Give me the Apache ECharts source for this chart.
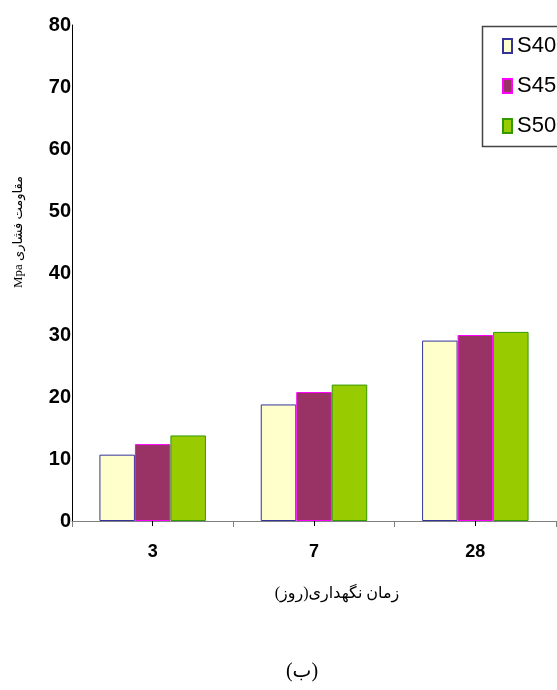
<!DOCTYPE html>
<html>
<head>
<meta charset="utf-8">
<script src="https://cdn.jsdelivr.net/npm/echarts@6/dist/echarts.min.js"></script>
<style>
html,body{margin:0;padding:0;background:#fff;}
#chart{width:557px;height:690px;}
</style>
</head>
<body>
<div id="chart"></div>
<script>
var categories = ['3', '7', '28'];
var seriesNames = ['S40', 'S45', 'S50'];
var s40 = [10.7, 18.8, 29.1];
var s45 = [12.4, 20.8, 30.0];
var s50 = [13.8, 22.0, 30.5];
var yTicks = [0, 10, 20, 30, 40, 50, 60, 70, 80];
var xAxisTitle = 'زمان نگهداری(روز)';
var yAxisTitle = 'Mpa مقاومت فشاری';
var figLabel = '(ب)';

var fills = ['#FFFFCC', '#993366', '#99CC00'];
var borders = ['#333399', '#FF00FF', '#339900'];
var values = [s40, s45, s50];

var chart = echarts.init(document.getElementById('chart'), null, {renderer: 'canvas'});
var sansFont = '"Liberation Sans", Arial, sans-serif';
var serifFont = '"Liberation Serif", "Times New Roman", "DejaVu Sans", serif';

var option = {
  animation: false,
  backgroundColor: '#ffffff',
  grid: {left: 72, right: 1, top: 25, bottom: 169, containLabel: false},
  legend: {
    orient: 'vertical',
    left: 497,
    top: 30,
    icon: 'rect',
    itemWidth: 9,
    itemHeight: 14,
    itemGap: 18,
    textStyle: {fontFamily: sansFont, fontSize: 22, color: '#000', lineHeight: 22, padding: [0, 0, 0, 0]},
    data: seriesNames
  },
  xAxis: [{
    type: 'category',
    data: categories,
    position: 'bottom',
    axisLine: {show: true, lineStyle: {color: '#808080', width: 1}},
    axisTick: {show: true, alignWithLabel: false, length: 6, lineStyle: {color: '#808080'}},
    axisLabel: {fontFamily: sansFont, fontWeight: 'bold', fontSize: 18, color: '#000', margin: 22},
    splitLine: {show: false}
  }, {
    type: 'category',
    data: categories,
    position: 'bottom',
    offset: 0,
    axisLine: {show: false},
    axisTick: {show: true, alignWithLabel: true, length: 5, lineStyle: {color: '#000'}},
    axisLabel: {show: false},
    splitLine: {show: false}
  }],
  yAxis: {
    type: 'value',
    min: yTicks[0],
    max: yTicks[yTicks.length - 1],
    interval: 10,
    axisLine: {show: true, lineStyle: {color: '#000', width: 1}},
    axisTick: {show: false},
    splitLine: {show: false},
    axisLabel: {fontFamily: sansFont, fontWeight: 'bold', fontSize: 20, color: '#000', margin: 1}
  },
  series: seriesNames.map(function (name, i) {
    return {
      name: name,
      type: 'bar',
      xAxisIndex: 0,
      data: values[i],
      barGap: '0%',
      barCategoryGap: '34%',
      itemStyle: {color: fills[i], borderColor: borders[i], borderWidth: 1}
    };
  }),
  graphic: [
    {
      type: 'rect',
      left: 480, top: 24,
      shape: {width: 80, height: 120},
      style: {fill: 'none', stroke: '#444', lineWidth: 1.5},
      z: 10
    },
    {
      type: 'text',
      x: 337, y: 594,
      style: {text: xAxisTitle, font: '16px ' + serifFont, fill: '#000', align: 'center', verticalAlign: 'middle'}
    },
    {
      type: 'text',
      x: 302, y: 672,
      style: {text: figLabel, font: '20px ' + serifFont, fill: '#000', align: 'center', verticalAlign: 'middle'}
    },
    {
      type: 'text',
      x: 19, y: 232,
      rotation: Math.PI / 2,
      style: {text: yAxisTitle, font: '13px ' + serifFont, fill: '#000', align: 'center', verticalAlign: 'middle'}
    }
  ]
};
chart.setOption(option);
</script>
</body>
</html>
